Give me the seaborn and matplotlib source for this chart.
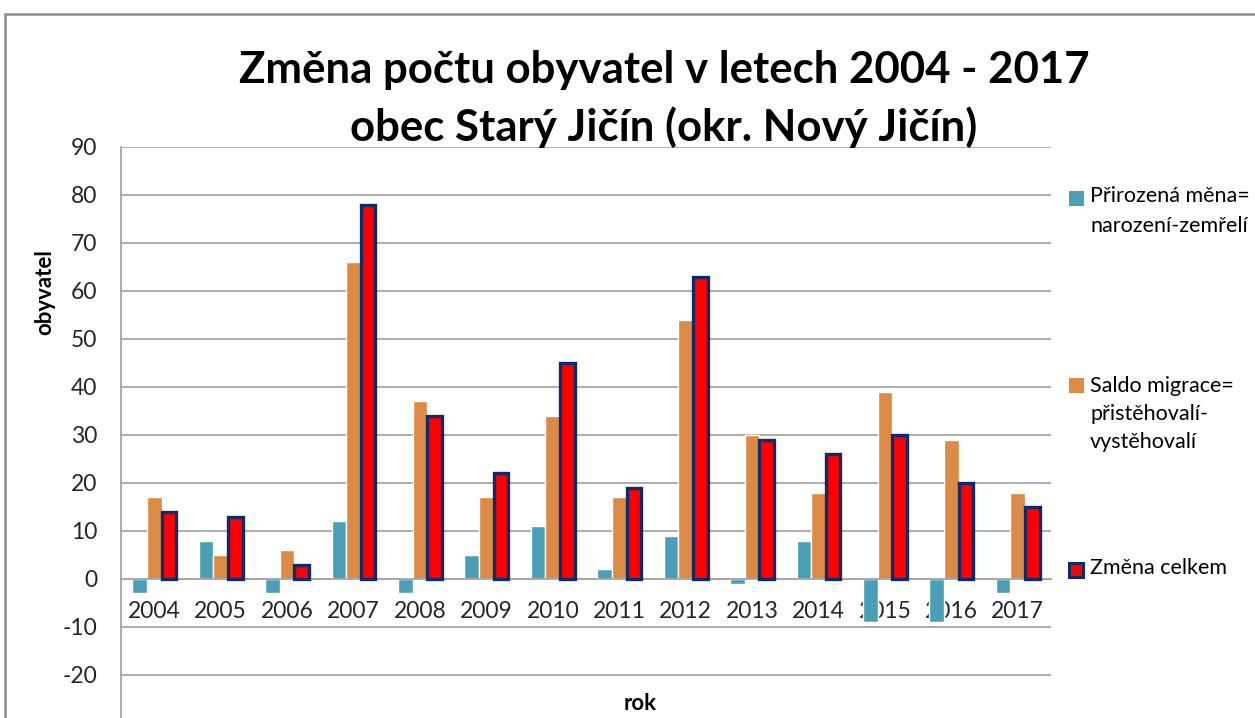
import matplotlib
matplotlib.use("Agg")
import matplotlib.pyplot as plt
from matplotlib.patches import Rectangle
import seaborn as sns
import pandas as pd

years = ['2004', '2005', '2006', '2007', '2008', '2009', '2010',
         '2011', '2012', '2013', '2014', '2015', '2016', '2017']
natural = [-3, 8, -3, 12, -3, 5, 11, 2, 9, -1, 8, -9, -9, -3]
migration = [17, 5, 6, 66, 37, 17, 34, 17, 54, 30, 18, 39, 29, 18]
total = [14, 13, 3, 78, 34, 22, 45, 19, 63, 29, 26, 30, 20, 15]
series = ['Přirozená měna=\nnarození-zemřelí',
          'Saldo migrace=\npřistěhovalí-\nvystěhovalí',
          'Změna celkem']
yticks = list(range(-20, 91, 10))

teal = '#4A9EB5'
orange = '#DC8B46'
red = '#FF0000'
navy = '#0D2A6A'
grid = '#A6A6A6'

df = pd.DataFrame({
    'rok': years * 3,
    'obyvatel': natural + migration + total,
    'serie': [series[0]] * len(years) + [series[1]] * len(years) + [series[2]] * len(years),
})

sns.set_style('white')
plt.rcParams['font.family'] = ['Lato', 'DejaVu Sans']
plt.rcParams['axes.unicode_minus'] = False

fig = plt.figure(figsize=(12.55, 7.18), dpi=100)
ax = fig.add_axes([121 / 1255, 1 - 723 / 718, 930 / 1255, (723 - 147) / 718])

sns.barplot(data=df, x='rok', y='obyvatel', hue='serie',
            palette=[teal, orange, red], width=0.66, saturation=1,
            legend=False, ax=ax)

for p in ax.containers[2]:
    p.set_edgecolor(navy)
    p.set_linewidth(2.4)
    p.set_zorder(3)

ax.set_ylim(-30, 90)
ax.set_yticks(yticks)
ax.yaxis.grid(True, color=grid, linewidth=1.3)
ax.set_axisbelow(True)
for s in ['top', 'right']:
    ax.spines[s].set_visible(False)
ax.spines['left'].set_color(grid)
ax.spines['left'].set_linewidth(1.3)
ax.spines['bottom'].set_position(('data', 0))
ax.spines['bottom'].set_color(grid)
ax.spines['bottom'].set_linewidth(1.3)
ax.tick_params(axis='y', length=0, pad=17, labelsize=16.5, labelcolor='#262626')
ax.tick_params(axis='x', length=0, pad=16, labelsize=16.5, labelcolor='#262626')
ax.set_xlabel('')
ax.set_ylabel('')

fig.text(45 / 1255, 1 - 292 / 718, 'obyvatel', rotation=90, ha='center', va='center',
         fontsize=16, fontweight='bold', color='black')
fig.text(640 / 1255, 1 - 704 / 718, 'rok', ha='center', va='center',
         fontsize=16, fontweight='bold', color='black')

fig.text(664 / 1255, 1 - 70 / 718, 'Změna počtu obyvatel v letech 2004 - 2017',
         ha='center', va='center', fontsize=31.5, fontweight='bold', color='black')
fig.text(664 / 1255, 1 - 127 / 718, 'obec Starý Jičín (okr. Nový Jičín)',
         ha='center', va='center', fontsize=31.5, fontweight='bold', color='black')

# legend
leg_rows = [[196, 226], [386, 414, 442], [568]]
sq_centers = [198, 385, 570]
cols = [teal, orange, red]
for name, rows, sc, c, i in zip(series, leg_rows, sq_centers, cols, range(3)):
    if i == 2:
        fig.add_artist(Rectangle((1069 / 1255, 1 - (sc + 7) / 718), 14 / 1255, 14 / 718,
                                 transform=fig.transFigure, facecolor=c,
                                 edgecolor=navy, linewidth=2.2))
    else:
        fig.add_artist(Rectangle((1069 / 1255, 1 - (sc + 7.5) / 718), 15 / 1255, 15 / 718,
                                 transform=fig.transFigure, facecolor=c, edgecolor='none'))
    for line, y in zip(name.split('\n'), rows):
        fig.text(1090 / 1255, 1 - y / 718, line, ha='left', va='center',
                 fontsize=15.5, color='black')

# chart border
fig.add_artist(Rectangle((5 / 1255, -0.05), 1.2, 1 - 14 / 718 + 0.05,
                         transform=fig.transFigure, facecolor='none',
                         edgecolor='#8C8C8C', linewidth=1.8))

fig.savefig('out.png', dpi=100)
